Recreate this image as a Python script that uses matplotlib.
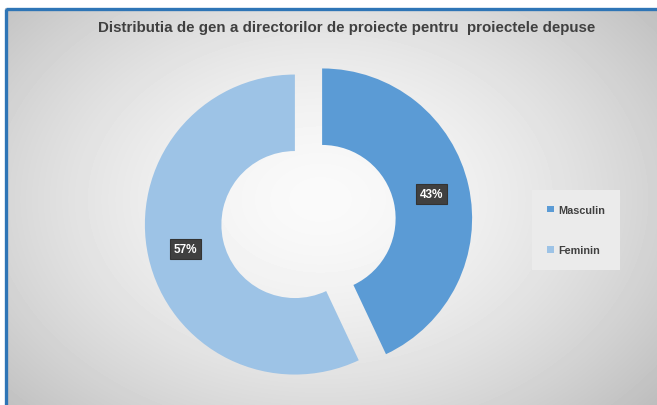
import numpy as np
import matplotlib.pyplot as plt
from matplotlib.patches import Rectangle

# data
labels = ['Masculin', 'Feminin']
values = [43, 57]
colors = ['#5B9BD5', '#9DC3E6']
title = 'Distributia de gen a directorilor de proiecte pentru  proiectele depuse'

W, H = 657, 406
fig = plt.figure(figsize=(W / 100, H / 100), dpi=100)
fig.patch.set_facecolor('white')

# background panel with radial gradient
bg = fig.add_axes([0, 0, 1, 1])
bg.set_xlim(0, W)
bg.set_ylim(H, 0)
bg.axis('off')
yy, xx = np.mgrid[0:H - 9, 0:W - 5]
d = np.sqrt(((xx + 5 - 320) / 420) ** 2 + ((yy + 9 - 200) / 300) ** 2)
g = np.clip(0.98 - 0.22 * d ** 1.6, 0, 1)
bg.imshow(g, cmap='gray', vmin=0, vmax=1, extent=(5, W, H, 9), aspect='auto',
          interpolation='bilinear')
bg.add_patch(Rectangle((5.5, 9.5), W + 10, H + 10, fill=False,
                       edgecolor='#2E75B6', linewidth=2.4))
bg.text(347, 28, title, ha='center', va='center', fontsize=10.9,
        fontweight='bold', color='#404040', family='Liberation Sans')

# doughnut
r_px = 150
cx, cy = 308.5, 222.5
lim = 1.2
ax = fig.add_axes([(cx - lim * r_px) / W, (H - cy - lim * r_px) / H,
                   2 * lim * r_px / W, 2 * lim * r_px / H])
ax.patch.set_alpha(0)

wedges, texts, autotexts = ax.pie(
    values, colors=colors, startangle=90, counterclock=False,
    explode=[0.093, 0.093], radius=1, autopct='%.0f%%', pctdistance=0.75,
    wedgeprops=dict(width=0.51, edgecolor='none'), frame=True)
ax.set_xlim(-lim, lim)
ax.set_ylim(-lim, lim)
ax.set_aspect('equal')
ax.axis('off')
for t in autotexts:
    t.set_color('white')
    t.set_fontweight('bold')
    t.set_fontsize(8.5)
    t.set_family('Liberation Sans')
    t.set_bbox(dict(boxstyle='square,pad=0.32', facecolor='#404040',
                    edgecolor='#333333', linewidth=0.8))

leg = fig.legend(wedges, labels, loc='center', bbox_to_anchor=(576 / W, 1 - 231 / H),
                 frameon=True, facecolor='#ebebeb', edgecolor='none', framealpha=1,
                 handlelength=0.6, handleheight=0.6, handletextpad=0.4,
                 labelspacing=2.8, borderpad=1.4, fancybox=False,
                 prop=dict(family='Liberation Sans', weight='bold', size=7.8))
for t in leg.get_texts():
    t.set_color('#404040')

plt.savefig('out.png', dpi=100)
